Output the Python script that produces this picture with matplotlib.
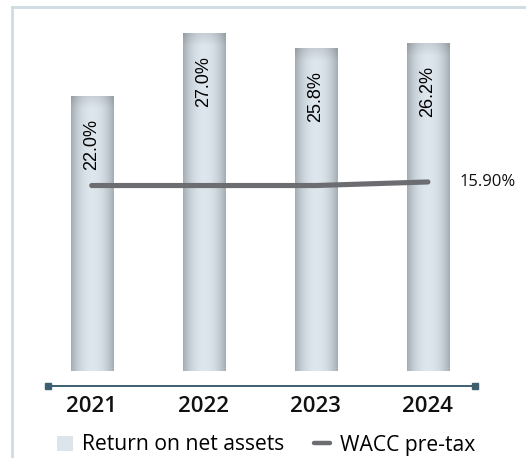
import matplotlib.pyplot as plt
import numpy as np
from matplotlib.lines import Line2D
from matplotlib.patches import Patch

# chart data
years = ["2021", "2022", "2023", "2024"]
return_on_net_assets = [22.0, 27.0, 25.8, 26.2]
wacc_pre_tax = [15.6, 15.6, 15.6, 15.9]
wacc_label = "15.90%"

DPI = 100
fig = plt.figure(figsize=(5.26, 4.58), dpi=DPI)

# light frame around the panel
fig.add_artist(Line2D([11.5 / 526, 11.5 / 526], [0, 1 - 7 / 458],
                      color="#cfdce2", lw=2, transform=fig.transFigure))
fig.add_artist(Line2D([11.5 / 526, 1], [1 - 7 / 458, 1 - 7 / 458],
                      color="#cfdce2", lw=2, transform=fig.transFigure))

ax = fig.add_axes([48 / 526, 1 - 386 / 458, (475 - 48) / 526, (386 - 20) / 458])
x = np.arange(len(years))
ax.set_xlim(-0.39, 3.42)
ax.set_ylim(-1.2, 28.08)

bars = ax.bar(x, return_on_net_assets, width=0.375, color="none", zorder=2)

# shaded fill for each bar: dark edges, light middle, slight dark cap
u = np.linspace(-1, 1, 60)
horiz = 1 - np.abs(u) ** 2.2
v = np.linspace(0, 1, 200)
edge = np.array([0.64, 0.68, 0.70])
mid = np.array([0.87, 0.90, 0.93])
for rect in bars:
    x0, w, h = rect.get_x(), rect.get_width(), rect.get_height()
    top_px = h * 12.5
    vert = np.clip((top_px - v * top_px) / 12, 0, 1)  # 0 at top, 1 after ~12px
    img = np.zeros((len(v), len(u), 3))
    for c in range(3):
        base = edge[c] + (mid[c] - edge[c]) * horiz[None, :]
        img[:, :, c] = base * (0.9 + 0.1 * vert[:, None])
    im = ax.imshow(img, extent=(x0, x0 + w, 0, h), origin="lower",
                   aspect="auto", zorder=2, interpolation="bilinear")
    im.set_clip_path(rect)
ax.set_xlim(-0.39, 3.42)
ax.set_ylim(-1.2, 28.08)

for xi, val in zip(x, return_on_net_assets):
    ax.annotate(f"{val:.1f}%", (xi, val), xytext=(0, -23 * 72 / DPI),
                textcoords="offset points", rotation=90, ha="center", va="top",
                fontsize=13, family="Liberation Sans", color="#000000", zorder=4)

# WACC on its own scale
ax2 = ax.twinx()
ax2.set_ylim(-1.26, 29.52)
ax2.plot(x, wacc_pre_tax, color="#6b6d70", lw=3.7, solid_capstyle="round", zorder=5)
ax2.annotate(wacc_label, (x[-1], wacc_pre_tax[-1]), xytext=(32 * 72 / DPI, 0),
             textcoords="offset points", ha="left", va="center",
             fontsize=12, family="Open Sans", fontweight="medium", color="#111111")
ax2.axis("off")

for s in ["top", "left", "right", "bottom"]:
    ax.spines[s].set_visible(False)
ax.plot([0, 1], [0, 0], transform=ax.transAxes, color="#3d5f70", lw=1.4,
        marker="s", markersize=4.5, clip_on=False, zorder=6)
ax.set_yticks([])
ax.set_xticks(x)
ax.set_xticklabels(years, fontsize=16, family="Open Sans", fontweight="semibold",
                   color="#111111")
ax.tick_params(axis="x", length=0, pad=7)

handles = [Patch(facecolor="#dde4ea", edgecolor="none"),
           Line2D([0], [0], color="#6b6d70", lw=3.2, solid_capstyle="round")]
fig.legend(handles, ["Return on net assets", "WACC pre-tax"], loc="center",
           bbox_to_anchor=(266 / 526, 1 - 445 / 458), ncol=2, frameon=False,
           prop={"family": "Open Sans", "size": 15.2, "weight": "medium"},
           handlelength=0.75, handleheight=0.7, handletextpad=0.45,
           columnspacing=1.4, borderaxespad=0)

fig.savefig("out.png", dpi=DPI)
